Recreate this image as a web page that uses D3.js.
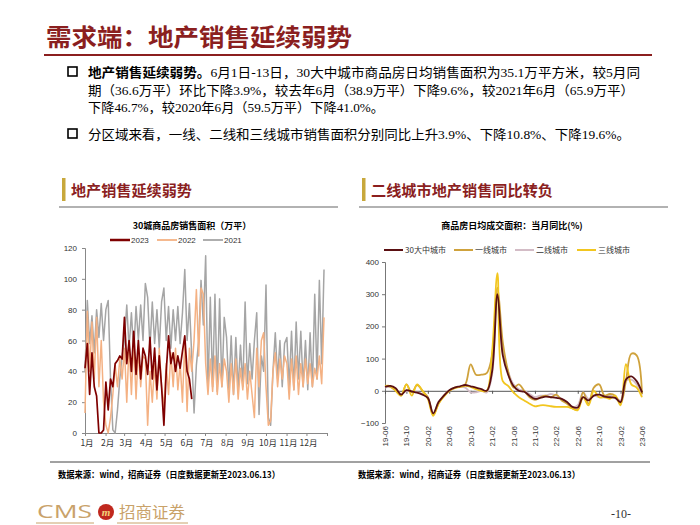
<!DOCTYPE html>
<html><head><meta charset="utf-8">
<script src="https://cdn.jsdelivr.net/npm/d3@7"></script>
<style>body{margin:0;background:#fff}svg{display:block}</style>
</head><body><svg id="c" width="700" height="525"></svg>
<script>
// ---------- DATA ----------
const monthLabels = ["1月","2月","3月","4月","5月","6月","7月","8月","9月","10月","11月","12月"];
const monthStartDays = [0,31,59,90,120,151,181,212,243,273,304,334];
const salesStepDays = 3.5; // samples twice a week
const sales2021 = [40,86,58,76,52,80,62,84,60, 80,86,35,2,0,15,35,50, 60,83,55,78,52,82,60,83,60,
  97,88,55,85,58,80,55,85, 94,60,82,55,80,60,82,58,78, 106,60,84,50,13,44,60,99,70,
  115,28,88,30,90,27,87,30,75, 62,28,63,25,62,28,57,30, 85,32,58,35,60,78,12,50,40,
  96,10,5,40,65,35,60,30,58, 62,30,66,28,72,35,66,30, 60,28,65,30,90,35,99,45,106];
const sales2022 = [13,79,40,72,35,75,30,60,20, 5,0,10,25,44,30,48,35, 55,20,58,25,60,22,55,30,50,
  48,5,40,20,45,22,55,30, 17,45,25,52,30,55,28,45,20, 60,14,55,40,60,93,50,94,90,
  45,25,48,27,50,25,45,30,48, 40,20,45,25,48,22,42,28, 45,22,40,25,10,55,30,60,65,
  30,5,8,40,52,30,48,35,50, 45,22,48,28,50,25,45,30, 48,32,45,30,42,35,50,32,75];
const sales2023 = [42,58,25,52,30,24,0,0,2, 33,15,35,30,45,47,50,48, 75,45,60,40,66,38,60,35,55,
  50,38,62,35,55,28,50,30, 5,40,63,45,52,40,50,42,53, 63,40,35,22];
const salesYTicks = [0,20,40,60,80,100,120];

const yoyMonths = ["19-06","19-07","19-08","19-09","19-10","19-11","19-12","20-01","20-02","20-03","20-04","20-05",
  "20-06","20-07","20-08","20-09","20-10","20-11","20-12","21-01","21-02","21-03","21-04","21-05",
  "21-06","21-07","21-08","21-09","21-10","21-11","21-12","22-01","22-02","22-03","22-04","22-05",
  "22-06","22-07","22-08","22-09","22-10","22-11","22-12","23-01","23-02","23-03","23-04","23-05","23-06"];
const yoyTickLabels = ["19-06","19-10","20-02","20-06","20-10","21-02","21-06","21-10","22-02","22-06","22-10","23-02","23-06"];
const yoy30 = [12,15,8,-12,2,-2,-6,-12,-22,-70,-35,-15,2,10,14,18,14,10,5,0,60,300,110,50,15,0,-3,-15,-25,-22,-18,-20,-22,-25,-35,-50,-52,-20,-30,-15,-12,-18,-20,-22,-35,35,45,30,-5];
const yoyT1 = [15,12,0,-15,20,-5,18,0,-20,-75,-40,-15,0,10,12,20,82,50,50,55,110,320,150,60,10,20,0,-20,-28,-20,-15,-20,-12,-30,-40,-55,-58,-5,-40,10,20,-15,-10,-15,-40,30,115,110,-10];
const yoyT2 = [10,12,5,-10,0,-3,-5,-10,-20,-70,-35,-15,0,8,12,10,-5,-5,0,-5,50,310,120,60,20,5,0,-10,-20,-15,-15,-10,-15,-25,-35,-50,-45,-5,-25,-15,-20,-20,-15,-20,-30,30,35,20,-15];
const yoyT3 = [15,15,0,-15,20,-15,20,0,-25,-78,-40,-18,0,8,12,15,12,5,0,0,120,365,30,15,-5,-20,-30,-40,-48,-45,-45,-48,-50,-50,-50,-55,-60,-20,-45,0,-20,-20,-25,-15,-45,83,20,10,-20];
const yoyYTicks = [-100,0,100,200,300,400];

// ---------- DRAW ----------
const svg = d3.select("#c");
const RED = "#8B1F1F";
const cjk = "'Noto Sans CJK SC', sans-serif";
const serif = "'Liberation Serif', 'Noto Sans CJK SC', serif";

// Title
svg.append("text").attr("x",46).attr("y",46).attr("font-family",cjk).attr("font-weight","bold")
  .attr("font-size",24).attr("fill",RED).attr("textLength",306).attr("lengthAdjust","spacingAndGlyphs")
  .text("需求端：地产销售延续弱势");
svg.append("line").attr("x1",44).attr("x2",652).attr("y1",55).attr("y2",55).attr("stroke",RED).attr("stroke-width",2);

// Bullets
function box(x,y){svg.append("rect").attr("x",x).attr("y",y).attr("width",9).attr("height",9).attr("fill","none").attr("stroke","#000").attr("stroke-width",1.6);}
box(68,67); box(68,129);
function line(x,y,parts,len){
  const t = svg.append("text").attr("x",x).attr("y",y).attr("font-family",serif).attr("font-size",13).attr("fill","#000");
  if(len) t.attr("textLength",len).attr("lengthAdjust","spacingAndGlyphs");
  parts.forEach(p=>{t.append("tspan").attr("font-weight",p[1]?"bold":"normal").attr("font-family",p[1]?cjk:serif).text(p[0]);});
}
line(88,77,[["地产销售延续弱势。",true],["6月1日-13日，30大中城市商品房日均销售面积为35.1万平方米，较5月同",false]],552);
line(88,95,[["期（36.6万平）环比下降3.9%，较去年6月（38.9万平）下降9.6%，较2021年6月（65.9万平）",false]],546);
line(88,112,[["下降46.7%，较2020年6月（59.5万平）下降41.0%。",false]],296);
line(88,139,[["分区域来看，一线、二线和三线城市销售面积分别同比上升3.9%、下降10.8%、下降19.6%。",false]],542);

// Panel headers
function header(x,x2,text,len){
  svg.append("rect").attr("x",x).attr("y",178).attr("width",3.5).attr("height",23).attr("fill","#C8A83C");
  svg.append("text").attr("x",x+9).attr("y",196).attr("font-family",cjk).attr("font-weight","bold").attr("font-size",15)
    .attr("fill",RED).attr("textLength",len).attr("lengthAdjust","spacingAndGlyphs").text(text);
  svg.append("line").attr("x1",x-3).attr("x2",x2).attr("y1",207).attr("y2",207).attr("stroke","#999").attr("stroke-width",1.5);
}
header(62,338,"地产销售延续弱势",121);
header(362,668,"二线城市地产销售同比转负",182);

// ---------- Left chart ----------
const xL = d3.scaleLinear().domain([0,365]).range([85,327]);
const yL = d3.scaleLinear().domain([0,120]).range([433,248]);
svg.append("text").attr("x",192).attr("y",229).attr("text-anchor","middle").attr("font-family",cjk).attr("font-weight","bold")
  .attr("font-size",9).attr("fill","#000").text("30城商品房销售面积（万平）");

const gyL = svg.append("g").attr("transform","translate(85,0)").call(d3.axisLeft(yL).tickValues(salesYTicks).tickSize(3).tickPadding(5));
const gxL = svg.append("g").attr("transform","translate(0,433)").call(d3.axisBottom(xL).tickValues(monthStartDays.concat([365])).tickSize(3).tickFormat(()=>""));
[gyL,gxL].forEach(g=>{g.selectAll("path,line").attr("stroke","#888");g.selectAll("text").attr("font-family","'Liberation Sans', Arial, sans-serif").attr("font-size",8).attr("fill","#333");});
svg.append("g").selectAll("text").data(monthLabels).join("text")
  .attr("x",(d,i)=>xL(monthStartDays[i])+2).attr("y",446).attr("text-anchor","middle")
  .attr("font-family",cjk).attr("font-size",8.5).attr("fill","#333").text(d=>d);

const lineL = d3.line().x((d,i)=>xL(i*salesStepDays)).y(d=>yL(d));
const salesSeries = [
  {name:"2021",data:sales2021,color:"#A5A5A5",w:1.5},
  {name:"2022",data:sales2022,color:"#F4B183",w:1.5},
  {name:"2023",data:sales2023,color:"#7F0000",w:1.7}];
svg.append("g").selectAll("path").data(salesSeries).join("path")
  .attr("d",d=>lineL(d.data)).attr("fill","none").attr("stroke",d=>d.color).attr("stroke-width",d=>d.w).attr("stroke-linejoin","round");
// legend (order 2023, 2022, 2021)
const legL = [salesSeries[2],salesSeries[1],salesSeries[0]];
const legLX = [110,157,203];
legL.forEach((s,i)=>{
  svg.append("line").attr("x1",legLX[i]).attr("x2",legLX[i]+20).attr("y1",240).attr("y2",240).attr("stroke",s.color).attr("stroke-width",s.name==="2023"?2.5:1.8);
  svg.append("text").attr("x",legLX[i]+21).attr("y",243).attr("font-family","'Liberation Sans', Arial, sans-serif").attr("font-size",8).attr("fill","#333").text(s.name);
});

// ---------- Right chart ----------
const xR = d3.scaleLinear().domain([0,yoyMonths.length-1]).range([385,642]);
const yR = d3.scaleLinear().domain([-100,400]).range([423,262]);
svg.append("text").attr("x",512).attr("y",229).attr("text-anchor","middle").attr("font-family",cjk).attr("font-weight","bold")
  .attr("font-size",9).attr("fill","#000").text("商品房日均成交面积：当月同比(%)");
const gyR = svg.append("g").attr("transform","translate(385,0)").call(d3.axisLeft(yR).tickValues(yoyYTicks).tickSize(3).tickPadding(3));
gyR.selectAll("path,line").attr("stroke","#777");
gyR.selectAll("text").attr("font-family","'Liberation Sans', Arial, sans-serif").attr("font-size",8).attr("fill","#333");
const tickIdx = yoyTickLabels.map(l=>yoyMonths.indexOf(l));
const gxR = svg.append("g").attr("transform",`translate(0,${yR(0)})`).call(d3.axisBottom(xR).tickValues(tickIdx).tickSize(3).tickFormat(()=>""));
gxR.selectAll("path,line").attr("stroke","#555");
svg.append("g").selectAll("text").data(yoyTickLabels).join("text")
  .attr("transform",(d,i)=>`translate(${xR(tickIdx[i])+3},426) rotate(-90)`).attr("text-anchor","end")
  .attr("font-family","'Liberation Sans', Arial, sans-serif").attr("font-size",8).attr("fill","#333").text(d=>d);

const lineR = d3.line().x((d,i)=>xR(i)).y(d=>yR(d)).curve(d3.curveCatmullRom.alpha(0.5));
const yoySeries = [
  {name:"30大中城市",data:yoy30,color:"#5A0F12",w:1.8},
  {name:"一线城市",data:yoyT1,color:"#CFA23C",w:1.8},
  {name:"二线城市",data:yoyT2,color:"#D3BCC6",w:1.8},
  {name:"三线城市",data:yoyT3,color:"#F2C61F",w:1.8}];
const drawOrder = [2,1,3,0];
svg.append("g").selectAll("path").data(drawOrder.map(i=>yoySeries[i])).join("path")
  .attr("d",d=>lineR(d.data)).attr("fill","none").attr("stroke",d=>d.color).attr("stroke-width",d=>d.w);
const legRX = [384,454,515,577];
yoySeries.forEach((s,i)=>{
  svg.append("line").attr("x1",legRX[i]).attr("x2",legRX[i]+19).attr("y1",250).attr("y2",250).attr("stroke",s.color).attr("stroke-width",2);
  svg.append("text").attr("x",legRX[i]+21).attr("y",253).attr("font-family",cjk).attr("font-size",8).attr("fill","#333").text(s.name);
});

// ---------- Footer ----------
svg.append("line").attr("x1",50).attr("x2",650).attr("y1",462).attr("y2",462).attr("stroke","#444").attr("stroke-width",1);
["数据来源：wind，招商证券（日度数据更新至2023.06.13）"].forEach(t=>{
  [58,358].forEach(x=>svg.append("text").attr("x",x).attr("y",478).attr("font-family",cjk).attr("font-weight","bold")
    .attr("font-size",9).attr("fill","#000").attr("textLength",222).attr("lengthAdjust","spacingAndGlyphs").text(t));
});
svg.append("text").attr("x",37).attr("y",518).attr("font-family","'Open Sans', sans-serif").attr("font-size",19).attr("fill","#C9A26A")
  .attr("textLength",55).attr("lengthAdjust","spacingAndGlyphs").text("CMS");
svg.append("circle").attr("cx",106).attr("cy",512).attr("r",8).attr("fill","#C0281E");
svg.append("text").attr("x",106).attr("y",516).attr("text-anchor","middle").attr("font-family","'Liberation Serif', serif").attr("font-style","italic").attr("font-weight","bold").attr("font-size",11).attr("fill","#F4D27A").text("m");
svg.append("text").attr("x",119).attr("y",518).attr("font-family",cjk).attr("font-size",16).attr("fill","#C9A26A").attr("textLength",66).attr("lengthAdjust","spacingAndGlyphs").text("招商证券");
svg.append("line").attr("x1",36).attr("x2",94).attr("y1",523).attr("y2",523).attr("stroke","#C9A26A").attr("stroke-width",1);
svg.append("line").attr("x1",117).attr("x2",188).attr("y1",523).attr("y2",523).attr("stroke","#C9A26A").attr("stroke-width",1);
svg.append("text").attr("x",611).attr("y",518).attr("font-family","'Liberation Serif', serif").attr("font-size",12).attr("fill","#333").text("-10-");
</script></body></html>
